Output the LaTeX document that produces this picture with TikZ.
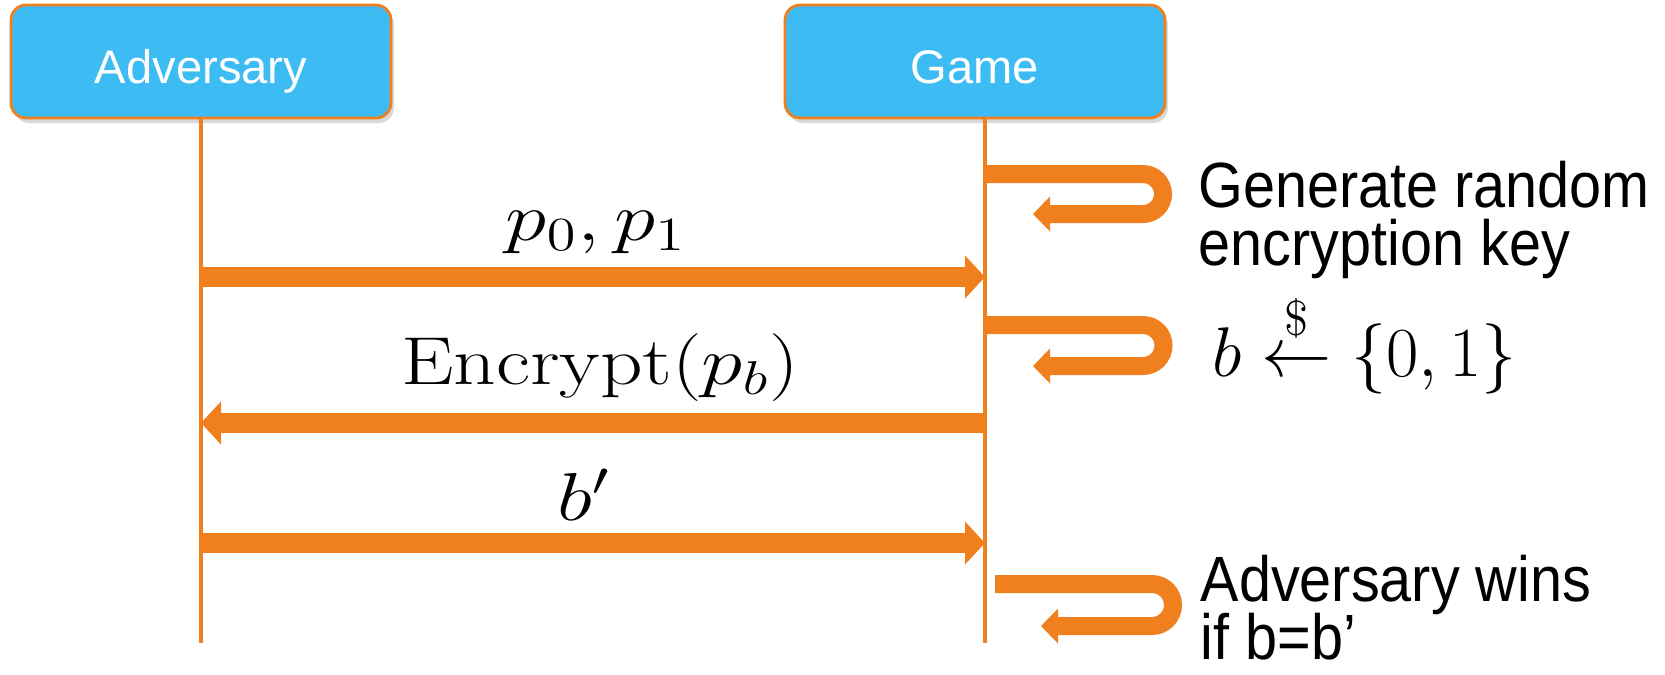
\RequirePackage{fix-cm}
\documentclass[tikz,border=0pt]{standalone}
\usepackage{amsmath}
\usepackage{graphicx}
\usepackage{fontspec}
\newfontfamily\helvfont{Liberation Sans}
\newfontfamily\helvnarrow[FakeStretch=0.9]{Liberation Sans}
\usetikzlibrary{
  arrows.meta,
  calc,
  shadows
}
\definecolor{actorblue}{RGB}{61,187,243}
\definecolor{msgorange}{RGB}{240,128,30}
\newcommand{\widemath}[1]{\scalebox{1.23}[1]{$#1$}}
\newcommand{\notefont}{\helvnarrow\fontsize{18.2}{16.5}\selectfont\lineskiplimit=-20pt\relax}
\tikzset{
  actorbox/.style={
    draw=msgorange,
    line width=0.8pt,
    fill=actorblue,
    rounded corners=4.3pt,
    minimum width=3.8cm,
    minimum height=1.13cm,
    text height=0.53cm,
    text depth=0.094cm,
    text=white,
    font=\helvfont\fontsize{13.4}{16}\selectfont,
    drop shadow={opacity=0.3,shadow xshift=0.03cm,shadow yshift=-0.05cm}
  },
  lifeline/.style={draw=msgorange,line width=0.04cm},
  msgarrow/.style={draw=msgorange,line width=0.2cm,-{Triangle[length=0.2cm,width=0.42cm]}},
  selfarrow/.style={draw=msgorange,line width=0.18cm,-{Triangle[length=0.17cm,width=0.34cm]}},
  msglabel/.style={font=\fontsize{19.3}{23}\selectfont,inner sep=0pt,anchor=base},
  note/.style={font=\notefont,align=left,inner sep=0pt}
}

\begin{document}
\begin{tikzpicture}[x=1cm,y=1cm]
  \useasboundingbox (0,0) rectangle (16.65,-6.74);
  \node[actorbox] (adv) at (2.01,-0.615) {Adversary};
  \node[actorbox] (game) at (9.75,-0.615) {Game};
  \coordinate (advend) at (adv.south |- 0,-6.43);
  \coordinate (gameend) at ($(game.south |- 0,-6.43)+(0.1,0)$);
  \draw[lifeline] (adv.south) -- (advend);
  \draw[lifeline] (gameend |- game.south) -- (gameend);

  % messages between the two lifelines
  \draw[msgarrow] (advend |- 0,-2.77) -- (gameend |- 0,-2.77);
  \node[msglabel] (pp) at (5.96,-2.40) {\widemath{p_0,p_1}};
  \draw[msgarrow] (gameend |- 0,-4.23) -- (advend |- 0,-4.23);
  \node[msglabel] (enc) at (6.0,-3.84) {\widemath{\mathrm{Encrypt}(p_b)}};
  \draw[msgarrow] (advend |- 0,-5.43) -- (gameend |- 0,-5.43);
  \node[msglabel] (bp) at (5.84,-5.2) {\widemath{b'}};

  % steps done by the game itself
  \foreach \ya/\r/\xs/\xe/\xt in {1.74/0.2/0/11.43/10.33,3.25/0.205/0/11.43/10.33,5.84/0.21/0.1/11.52/10.41}
    \draw[selfarrow] ($(gameend |- 0,-\ya)+(\xs,0)$) -- (\xe,-\ya)
      arc[start angle=90,end angle=-90,radius=\r] -- (\xt,-\ya-2*\r);

  \node[note,anchor=north west] (keygen) at (11.98,-1.60) {Generate random\\encryption key};
  \node[inner sep=0pt,anchor=base west,font=\fontsize{20}{24}\selectfont] (coin) at (12.12,-3.76)
    {$b \stackrel{\$}{\leftarrow} \{0,1\}$};
  \node[note,anchor=north west] (wins) at (12.0,-5.54) {Adversary wins\\if b=b’};
\end{tikzpicture}
\end{document}
